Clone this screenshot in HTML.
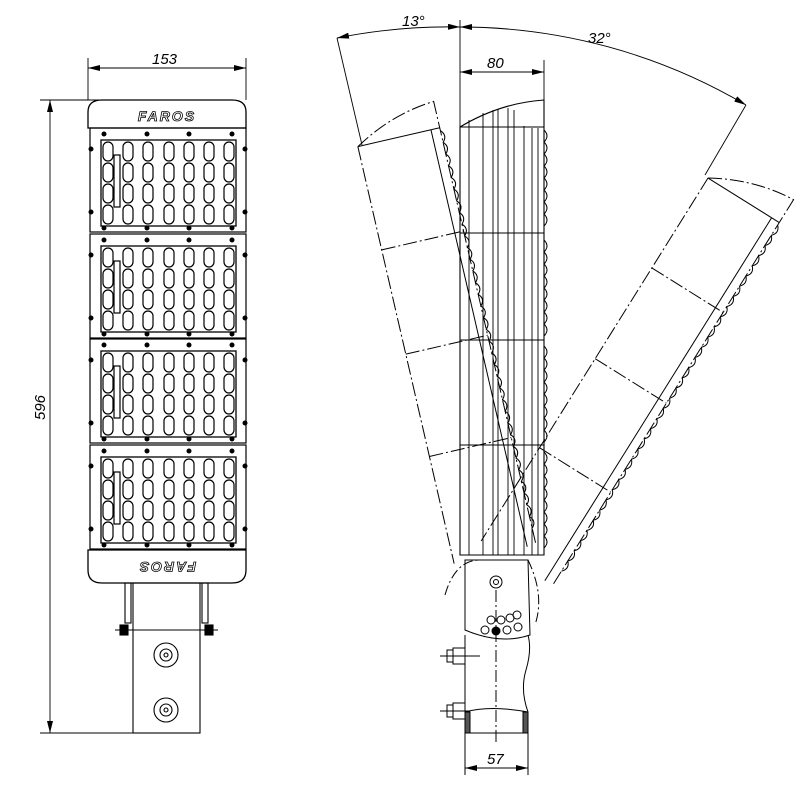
<!DOCTYPE html>
<html><head><meta charset="utf-8"><style>
html,body{margin:0;padding:0;background:#fff}
svg{display:block}
text{font-family:"Liberation Sans",sans-serif;font-style:italic;font-size:15px;fill:#000}
</style></head><body>
<svg width="800" height="788" viewBox="0 0 800 788" xmlns="http://www.w3.org/2000/svg">
<defs>
<marker id="ar" viewBox="0 0 12 6" refX="12" refY="3" markerWidth="12" markerHeight="6" orient="auto-start-reverse" markerUnits="userSpaceOnUse"><path d="M0,0 L12,3 L0,6z" fill="#000"/></marker>
<g id="mod">
  <rect x="90" y="0" width="156" height="104" fill="none" stroke="#000" stroke-width="1.2"/>
  <rect x="101" y="12" width="135" height="86" fill="none" stroke="#000" stroke-width="1.3"/>
  <g fill="none" stroke="#000" stroke-width="1.2">
  <g id="col"><rect x="103" y="14" width="10" height="19" rx="5"/><rect x="103" y="35" width="10" height="19" rx="5"/><rect x="103" y="56" width="10" height="19" rx="5"/><rect x="103" y="77" width="10" height="19" rx="5"/></g>
  <use href="#col" x="20"/><use href="#col" x="40"/><use href="#col" x="61"/><use href="#col" x="81"/><use href="#col" x="101"/><use href="#col" x="121"/>
  <rect x="114" y="27" width="6" height="52" fill="#fff"/>
  </g>
  <g fill="#000"><circle cx="104" cy="6" r="2.5"/><circle cx="147" cy="6" r="2.5"/><circle cx="189" cy="6" r="2.5"/><circle cx="232" cy="6" r="2.5"/>
  <circle cx="91" cy="21" r="2.5"/><circle cx="245" cy="21" r="2.5"/><circle cx="91" cy="84" r="2.5"/><circle cx="245" cy="84" r="2.5"/>
  <circle cx="104" cy="100" r="2.5"/><circle cx="147" cy="100" r="2.5"/><circle cx="189" cy="100" r="2.5"/><circle cx="232" cy="100" r="2.5"/></g>
</g>
<g id="hs">
  <path d="M460,127 Q500,103 544,100 L544,555 L460,555 Z" fill="none" stroke="#000" stroke-width="1.1"/>
  <g stroke="#000" stroke-width="0.9">
  <line x1="469" y1="120" x2="469" y2="555"/><line x1="483" y1="113" x2="483" y2="555"/><line x1="493" y1="110" x2="493" y2="555"/><line x1="498" y1="109" x2="498" y2="555"/><line x1="508" y1="108" x2="508" y2="555"/><line x1="514" y1="110" x2="514" y2="555"/><line x1="524" y1="126" x2="524" y2="555"/><line x1="532" y1="128" x2="532" y2="555"/><line x1="538" y1="128" x2="538" y2="555"/>
  <line x1="460" y1="127" x2="544" y2="127"/><line x1="460" y1="233" x2="544" y2="233"/><line x1="460" y1="340" x2="544" y2="340"/><line x1="460" y1="445" x2="544" y2="445"/>
  </g>
  <path d="M544,130 q6,6 0,12 q6,6 0,12 q6,6 0,12 q6,6 0,12 q6,6 0,12 q6,6 0,12 q6,6 0,12 q6,6 0,12 M544,240 q6,6 0,12 q6,6 0,12 q6,6 0,12 q6,6 0,12 q6,6 0,12 q6,6 0,12 q6,6 0,12 q6,6 0,12 M544,346 q6,6 0,12 q6,6 0,12 q6,6 0,12 q6,6 0,12 q6,6 0,12 q6,6 0,12 q6,6 0,12 q6,6 0,12 M544,452 q6,6 0,12 q6,6 0,12 q6,6 0,12 q6,6 0,12 q6,6 0,12 q6,6 0,12 q6,6 0,12 q6,6 0,12" fill="none" stroke="#000" stroke-width="1"/>
</g>
<g id="ph" fill="none" stroke="#000" stroke-width="1" stroke-dasharray="14,3,2,3">
  <path d="M460,127 Q500,103 544,100 L544,555"/><line x1="460" y1="127" x2="544" y2="127" stroke-dasharray="none"/>
  <line x1="460" y1="127" x2="460" y2="555"/>
  <line x1="460" y1="233" x2="544" y2="233"/><line x1="460" y1="340" x2="544" y2="340"/><line x1="460" y1="445" x2="544" y2="445"/>
  <line x1="535" y1="127" x2="535" y2="555" stroke-dasharray="none"/>
  <path d="M544,130 q6,6 0,12 q6,6 0,12 q6,6 0,12 q6,6 0,12 q6,6 0,12 q6,6 0,12 q6,6 0,12 q6,6 0,12 q6,6 0,12 q6,6 0,12 q6,6 0,12 q6,6 0,12 q6,6 0,12 q6,6 0,12 q6,6 0,12 q6,6 0,12 q6,6 0,12 q6,6 0,12 q6,6 0,12 q6,6 0,12 q6,6 0,12 q6,6 0,12 q6,6 0,12 q6,6 0,12 q6,6 0,12 q6,6 0,12 q6,6 0,12 q6,6 0,12 q6,6 0,12 q6,6 0,12 q6,6 0,12 q6,6 0,12 q6,6 0,12 q6,6 0,12" stroke-dasharray="none"/>
</g>
</defs>

<!-- FRONT VIEW -->
<g stroke="#000" stroke-width="0.9" fill="none">
  <line x1="88" y1="58" x2="88" y2="100"/><line x1="246" y1="58" x2="246" y2="100"/>
  <line x1="88" y1="68" x2="246" y2="68" marker-start="url(#ar)" marker-end="url(#ar)"/>
  <line x1="40" y1="100" x2="110" y2="100"/><line x1="40" y1="733" x2="140" y2="733"/>
  <line x1="50" y1="100" x2="50" y2="733" marker-start="url(#ar)" marker-end="url(#ar)"/>
</g>
<text x="152" y="64">153</text>
<text transform="translate(45,420) rotate(-90)">596</text>
<path d="M88,128 L88,112 Q88,100 102,100 L232,100 Q246,100 246,112 L246,128 Z" fill="none" stroke="#000" stroke-width="1.3"/>
<text x="167" y="121" text-anchor="middle" style="font-weight:bold;font-size:14px;letter-spacing:2px;fill:#fff;stroke:#000;stroke-width:0.8">FAROS</text>
<use href="#mod" y="128"/><use href="#mod" y="234"/><use href="#mod" y="339"/><use href="#mod" y="445"/>
<path d="M88,550 L88,570 Q88,583 102,583 L232,583 Q246,583 246,570 L246,550 Z" fill="none" stroke="#000" stroke-width="1.3"/>
<text transform="translate(167,562) rotate(180)" text-anchor="middle" style="font-weight:bold;font-size:14px;letter-spacing:2px;fill:#fff;stroke:#000;stroke-width:0.8">FAROS</text>
<g stroke="#000" fill="none" stroke-width="1.1">
  <rect x="125" y="583" width="6" height="40"/><rect x="202" y="583" width="6" height="40"/>
  <line x1="115" y1="630" x2="218" y2="630"/>
  <rect x="120" y="625" width="8" height="10" fill="#000"/><rect x="205" y="625" width="8" height="10" fill="#000"/>
  <rect x="133" y="583" width="67" height="150"/>
  <circle cx="166" cy="655" r="12"/><circle cx="166" cy="655" r="6"/><circle cx="166" cy="655" r="2"/>
  <circle cx="166" cy="710" r="12"/><circle cx="166" cy="710" r="6"/><circle cx="166" cy="710" r="2"/>
</g>

<!-- SIDE VIEW -->
<g stroke="#000" stroke-width="0.9" fill="none">
  <line x1="460" y1="20" x2="460" y2="127"/>
  <line x1="544" y1="60" x2="544" y2="100"/>
  <line x1="460" y1="72" x2="544" y2="72" marker-start="url(#ar)" marker-end="url(#ar)"/>
  <path d="M337,38 A563,563 0 0 1 460,27" marker-start="url(#ar)" marker-end="url(#ar)"/>
  <path d="M460,27 A563,563 0 0 1 746,105" marker-start="url(#ar)" marker-end="url(#ar)"/>
  <line x1="337" y1="38" x2="362" y2="145"/>
  <line x1="746" y1="105" x2="705" y2="175"/>
</g>
<text x="402" y="26">13°</text>
<text x="588" y="43">32°</text>
<text x="487" y="68">80</text>
<use href="#ph" transform="rotate(-13 495 585)"/>
<use href="#ph" transform="rotate(32 495 585)"/>
<use href="#hs"/>
<g stroke="#000" fill="none" stroke-width="1">
  <path d="M465,560 L528,560 L530,635 Q500,645 465,630 Z"/>
  <path d="M445,595 Q455,560 480,560 M528,560 Q545,595 535,625" stroke-dasharray="10,3,2,3"/>
  <circle cx="496" cy="582" r="6"/><circle cx="496" cy="582" r="2.5"/>
  <circle cx="491" cy="620" r="4"/><circle cx="501" cy="620" r="4"/><circle cx="510" cy="618" r="4"/><circle cx="517" cy="615" r="4"/>
  <circle cx="485" cy="630" r="4"/><circle cx="496" cy="631" r="4" fill="#000"/><circle cx="507" cy="630" r="4"/><circle cx="518" cy="627" r="4"/>
  <path d="M465,635 L465,733 L528,733 L528,712 Q520,690 526,670 Q532,650 528,635"/>
  <path d="M465,712 Q490,705 528,712"/>
  <rect x="465" y="712" width="5" height="21" fill="#555"/><rect x="523" y="712" width="5" height="21" fill="#555"/>
  <line x1="496" y1="590" x2="496" y2="745" stroke-dasharray="12,3,2,3"/>
  <rect x="447" y="650" width="6" height="12"/><rect x="453" y="648" width="12" height="16"/>
  <rect x="447" y="705" width="6" height="12"/><rect x="453" y="703" width="12" height="16"/>
  <line x1="440" y1="656" x2="480" y2="656"/><line x1="440" y1="711" x2="470" y2="711"/>
  <line x1="465" y1="733" x2="465" y2="775"/><line x1="528" y1="733" x2="528" y2="775"/>
  <line x1="465" y1="768" x2="528" y2="768" marker-start="url(#ar)" marker-end="url(#ar)"/>
</g>
<text x="487" y="764">57</text>
</svg>
</body></html>
